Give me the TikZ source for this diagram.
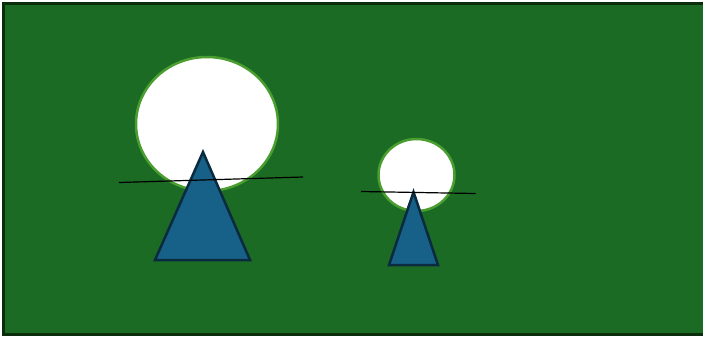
\documentclass[tikz,border=0pt]{standalone}
\definecolor{bggreen}{HTML}{1B6B24}
\definecolor{bgedge}{HTML}{0A2E0C}
\definecolor{ringgreen}{HTML}{4A9E30}
\definecolor{tribl}{HTML}{176087}
\definecolor{triedge}{HTML}{0A2A40}
\begin{document}
\begin{tikzpicture}[x=1pt,y=-1pt,
  ball/.style={fill=white,draw=ringgreen,line width=2.5pt},
  cone/.style={fill=tribl,draw=triedge,line width=2.5pt,line join=miter},
  beam/.style={draw=black,line width=1.2pt}]
\useasboundingbox (0,0) rectangle (703,338);
\begin{scope}
\clip (0,0) rectangle (703,338);
\draw[fill=bggreen,draw=bgedge,line width=3pt] (3.5,3.5) rectangle (710,334.5);
\end{scope}
\draw[ball] (207,124) ellipse [x radius=71, y radius=67];
\draw[ball] (416.5,175) ellipse [x radius=38, y radius=36];
\coordinate (t1a) at (203,152);
\coordinate (t1b) at (250,260);
\coordinate (t1c) at (155,260);
\draw[cone] (t1a) -- (t1b) -- (t1c) -- cycle;
\coordinate (t2a) at (413.5,192);
\coordinate (t2b) at (438,265);
\coordinate (t2c) at (389,265);
\draw[cone] (t2a) -- (t2b) -- (t2c) -- cycle;
\coordinate (l1a) at (119,182.5);
\coordinate (l1b) at (303,177);
\draw[beam] (l1a) -- (l1b);
\coordinate (l2a) at (361,191.5);
\coordinate (l2b) at (475.5,193.5);
\draw[beam] (l2a) -- (l2b);
\end{tikzpicture}
\end{document}
